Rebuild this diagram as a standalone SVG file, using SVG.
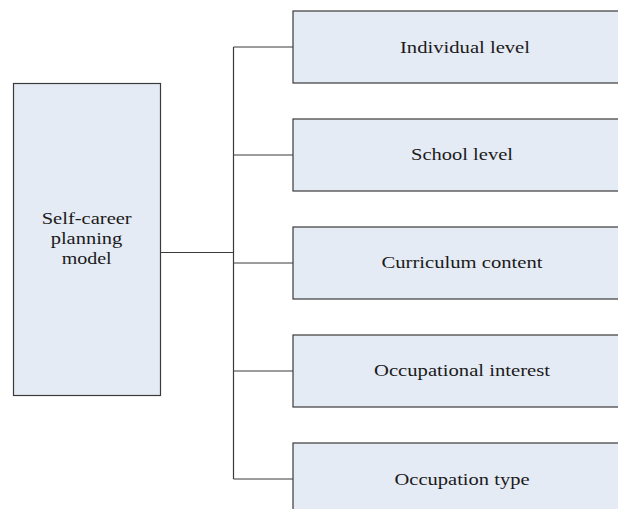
<svg xmlns="http://www.w3.org/2000/svg" width="618" height="509" viewBox="0 0 618 509">
<style>
.box{fill:#e5ebf5;stroke:#3a3a3a;stroke-width:1.2}
.lbl{font-size:16.5px;fill:#1a1a1a;text-anchor:middle}
.conn{stroke:#3a3a3a;stroke-width:1.2;fill:none}
</style>
<rect width="618" height="509" fill="#ffffff"/>
<g id="connectors">
<path class="conn" d="M161 252.5H233.5M233.5 47V479M233.5 47H293M233.5 155H293M233.5 263H293M233.5 371H293M233.5 479H293"/>
</g>
<g font-family="Liberation Serif, DejaVu Serif, serif">
<g id="root">
<rect class="box" x="13.5" y="83.5" width="147" height="312"/>
<text class="lbl" x="86.7" y="224" textLength="90" lengthAdjust="spacingAndGlyphs">Self-career</text>
<text class="lbl" x="86.5" y="244" textLength="71.7" lengthAdjust="spacingAndGlyphs">planning</text>
<text class="lbl" x="86.7" y="264" textLength="50" lengthAdjust="spacingAndGlyphs">model</text>
</g>
<g id="n1">
<rect class="box" x="293" y="11" width="345" height="72"/>
<text class="lbl" x="465" y="53" textLength="130" lengthAdjust="spacingAndGlyphs">Individual level</text>
</g>
<g id="n2">
<rect class="box" x="293" y="119" width="345" height="72"/>
<text class="lbl" x="462" y="160" textLength="102" lengthAdjust="spacingAndGlyphs">School level</text>
</g>
<g id="n3">
<rect class="box" x="293" y="227" width="345" height="72"/>
<text class="lbl" x="462" y="268" textLength="161" lengthAdjust="spacingAndGlyphs">Curriculum content</text>
</g>
<g id="n4">
<rect class="box" x="293" y="335" width="345" height="72"/>
<text class="lbl" x="462" y="376" textLength="176" lengthAdjust="spacingAndGlyphs">Occupational interest</text>
</g>
<g id="n5">
<rect class="box" x="293" y="443" width="345" height="80"/>
<text class="lbl" x="462" y="485" textLength="135" lengthAdjust="spacingAndGlyphs">Occupation type</text>
</g>
</g>
</svg>
